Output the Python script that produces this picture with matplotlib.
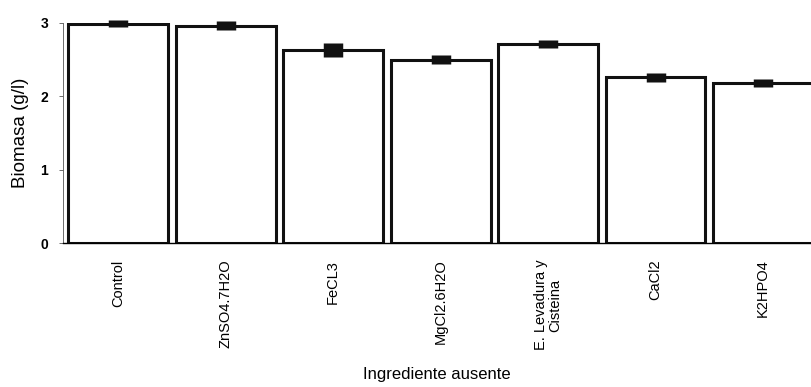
import numpy as np
import matplotlib.pyplot as plt

plt.rcParams['font.family'] = ['Liberation Sans', 'DejaVu Sans']

ingredientes = ['Control', 'ZnSO4.7H2O', 'FeCL3', 'MgCl2.6H2O',
                'E. Levadura y\nCisteina', 'CaCl2', 'K2HPO4']
biomasa = [2.99, 2.96, 2.63, 2.50, 2.71, 2.26, 2.18]
error = [0.05, 0.06, 0.09, 0.06, 0.05, 0.06, 0.05]

fig = plt.figure(figsize=(8.11, 3.87), dpi=100)
ax = fig.add_axes([0.078, 0.372, 0.922, 0.569])

x = np.arange(len(ingredientes))
ax.bar(x, biomasa, width=0.93, color='white', edgecolor='#111111',
       linewidth=2.2, zorder=2)
eb = ax.errorbar(x, biomasa, yerr=error, fmt='none', ecolor='#111111',
                 elinewidth=14, capsize=0, zorder=3)
eb.lines[2][0].set_clip_on(False)

ax.set_xlim(-0.512, 6.447)
ax.set_ylim(0, 3)
ax.set_yticks([0, 1, 2, 3])
ax.set_xticks(x)
ax.set_xticklabels(ingredientes, rotation=90, fontsize=10.5, va='top',
                   ha='center', multialignment='center', linespacing=1.0)
ax.tick_params(axis='x', length=0, pad=12)
ax.tick_params(axis='y', length=3, width=0.6, labelsize=10, pad=8, color='#555555')
for lbl in ax.get_yticklabels():
    lbl.set_fontweight('bold')

for s in ['top', 'right']:
    ax.spines[s].set_visible(False)
ax.spines['left'].set_linewidth(0.6)
ax.spines['left'].set_color('#555555')
ax.spines['bottom'].set_linewidth(1.0)

ax.set_ylabel('Biomasa (g/l)', fontsize=13.5, labelpad=8)
ax.set_xlabel('Ingrediente ausente', fontsize=12, labelpad=12)

fig.savefig('out.png', dpi=100)
